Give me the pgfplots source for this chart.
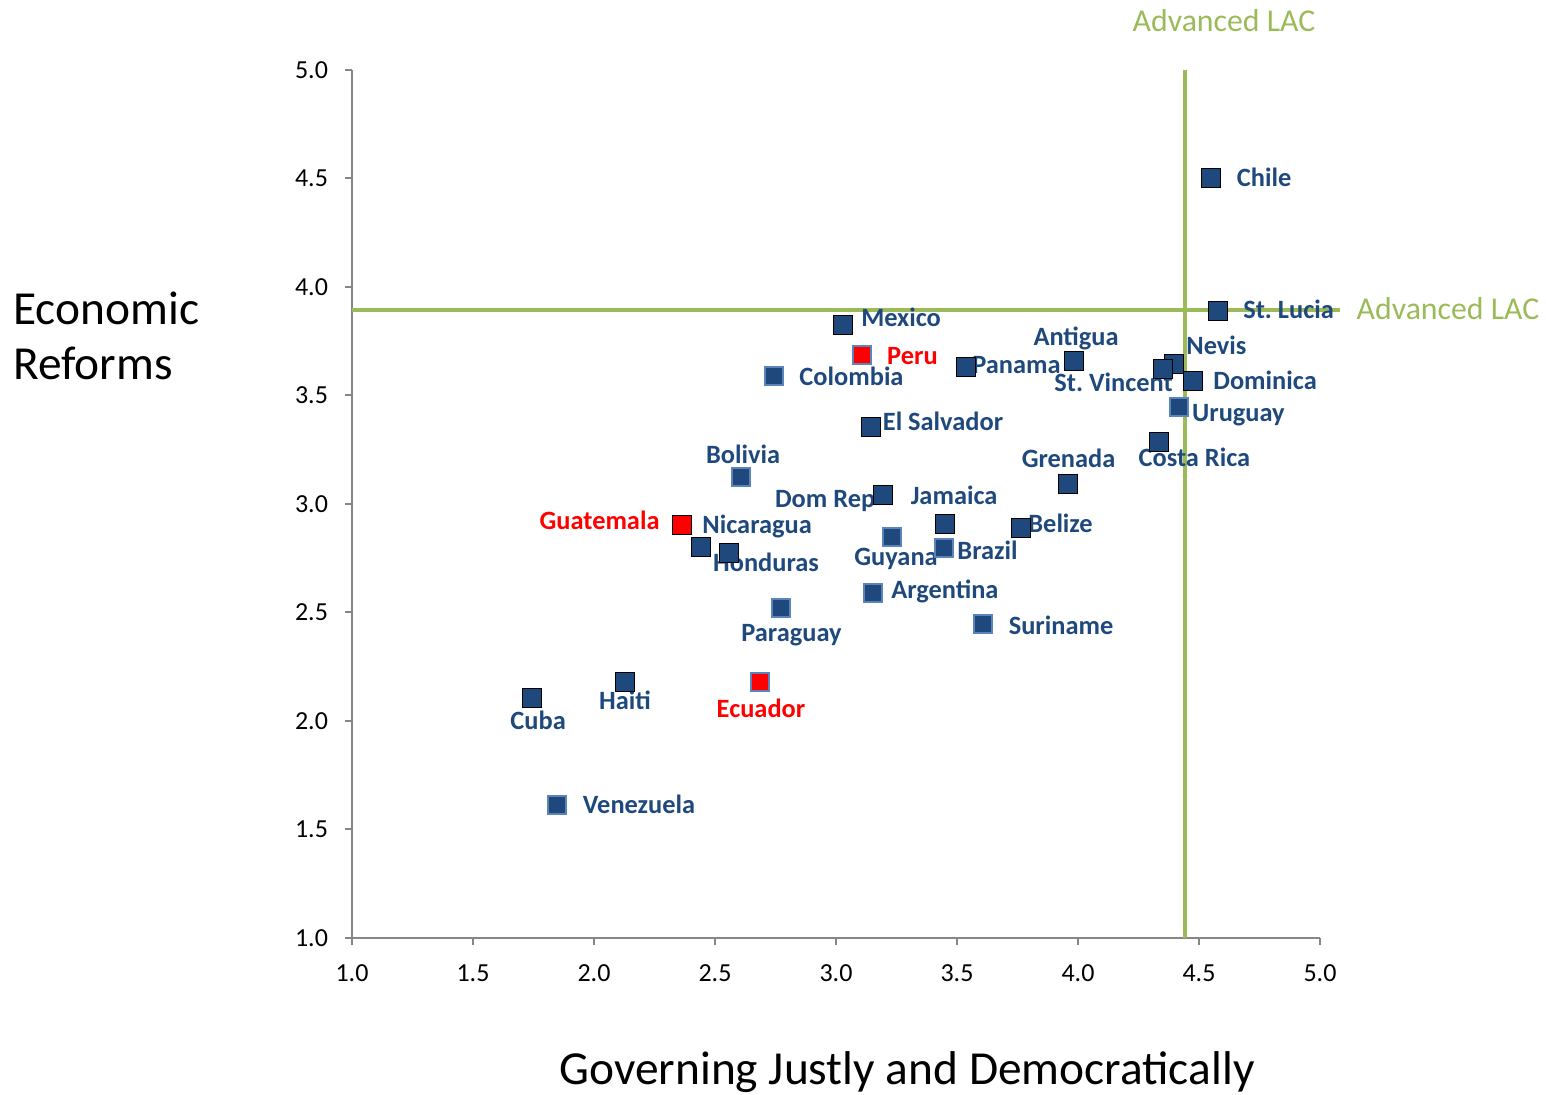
\documentclass[border=0pt]{standalone}
\usepackage{pgfplots}
\pgfplotsset{compat=1.18}
\usepackage{fontspec}
\setmainfont{Carlito}
\definecolor{navy}{HTML}{1F497D}
\definecolor{edgeblue}{HTML}{5B84BA}
\definecolor{lacgreen}{HTML}{9BBB59}
\definecolor{axisgray}{HTML}{868686}

\tikzset{
  lab/.style={anchor=base, yshift=-4.25pt, text=navy,
    font=\bfseries\fontsize{13.2}{15}\selectfont, inner sep=0pt},
  redlab/.style={lab, text=red},
}

\begin{document}
\begin{tikzpicture}
\path[use as bounding box] (0,0) rectangle (773pt,547.5pt);
\begin{axis}[
  at={(176pt,78.5pt)}, anchor=south west,
  scale only axis, width=484pt, height=434pt,
  xmin=1, xmax=5, ymin=1, ymax=5,
  xtick={1,1.5,2,2.5,3,3.5,4,4.5,5},
  ytick={1,1.5,2,2.5,3,3.5,4,4.5,5},
  axis x line*=bottom, axis y line*=left,
  axis line style={axisgray, line width=1pt, -},
  tick style={axisgray, line width=1pt},
  tick align=outside, major tick length=3.5pt,
  ticklabel style={font=\fontsize{13}{15}\selectfont, black},
  yticklabel style={xshift=-5pt},
  xticklabel style={yshift=-6.5pt},
  /pgf/number format/.cd, fixed, fixed zerofill, precision=1,
  assume math mode=true, /pgfplots/.cd,
  clip=false,
]
% reference lines (Advanced LAC)
\addplot[lacgreen, line width=2pt] coordinates {(1,3.896) (5.083,3.896)};
\addplot[lacgreen, line width=2pt] coordinates {(4.441,1) (4.441,5)};

% blue, no border
\addplot[only marks, mark=square*, mark size=4.75pt,
  mark options={fill=navy, draw=none}] coordinates {
  (4.550,4.502) (4.577,3.892) (3.030,3.827) (3.536,3.634) (3.982,3.660)
  (4.395,3.647) (4.349,3.624) (4.473,3.565) (4.333,3.288) (3.143,3.356)
  (3.957,3.092) (3.192,3.041) (3.448,2.908) (3.762,2.889) (2.440,2.804)
  (2.559,2.773) (1.745,2.108) (2.126,2.182)
};
% blue, light border
\addplot[only marks, mark=square*, mark size=4.5pt,
  mark options={fill=navy, draw=edgeblue, line width=1pt}] coordinates {
  (2.745,3.591) (2.606,3.123) (2.774,2.522) (3.154,2.588) (3.609,2.445)
  (3.233,2.848) (3.448,2.797) (4.419,3.448) (1.846,1.614)
};
% red
\addplot[only marks, mark=square*, mark size=4.75pt,
  mark options={fill=red, draw=none}] coordinates {(2.362,2.902)};
\addplot[only marks, mark=square*, mark size=4.5pt,
  mark options={fill=red, draw=edgeblue, line width=1pt}] coordinates {
  (3.106,3.687) (2.685,2.181)
};

\node[lab] at (axis cs:4.769,4.502) {Chile};
\node[lab] at (axis cs:4.870,3.894) {St.\ Lucia};
\node[lab] at (axis cs:3.269,3.857) {Mexico};
\node[redlab] at (axis cs:3.316,3.682) {Peru};
\node[lab] at (axis cs:3.064,3.585) {Colombia};
\node[lab] at (axis cs:3.746,3.641) {Panama};
\node[lab] at (axis cs:3.992,3.770) {Antigua};
\node[lab] at (axis cs:4.572,3.728) {Nevis};
\node[lab] at (axis cs:4.147,3.558) {St.\ Vincent};
\node[lab] at (axis cs:4.773,3.567) {Dominica};
\node[lab] at (axis cs:4.663,3.419) {Uruguay};
\node[lab] at (axis cs:4.481,3.212) {Costa Rica};
\node[lab] at (axis cs:3.442,3.378) {El Salvador};
\node[lab] at (axis cs:2.616,3.226) {Bolivia};
\node[lab] at (axis cs:3.961,3.207) {Grenada};
\node[lab] at (axis cs:2.955,3.023) {Dom Rep};
\node[lab] at (axis cs:3.488,3.037) {Jamaica};
\node[redlab] at (axis cs:2.023,2.922) {Guatemala};
\node[lab] at (axis cs:2.674,2.903) {Nicaragua};
\node[lab] at (axis cs:2.711,2.728) {Honduras};
\node[lab] at (axis cs:3.248,2.756) {Guyana};
\node[lab] at (axis cs:3.626,2.783) {Brazil};
\node[lab] at (axis cs:3.928,2.908) {Belize};
\node[lab] at (axis cs:3.450,2.604) {Argentina};
\node[lab] at (axis cs:2.816,2.406) {Paraguay};
\node[lab] at (axis cs:3.930,2.438) {Suriname};
\node[lab] at (axis cs:1.769,2.000) {Cuba};
\node[lab] at (axis cs:2.128,2.092) {Haiti};
\node[redlab] at (axis cs:2.690,2.055) {Ecuador};
\node[lab] at (axis cs:2.186,1.613) {Venezuela};
\end{axis}

\node[anchor=base, text=lacgreen, font=\fontsize{15.9}{19}\selectfont, inner sep=0pt]
  at (612pt,531.5pt) {Advanced LAC};
\node[anchor=base, text=lacgreen, font=\fontsize{15.9}{19}\selectfont, inner sep=0pt]
  at (724pt,387.5pt) {Advanced LAC};
\node[anchor=base west, font=\fontsize{23.7}{28}\selectfont, inner sep=0pt]
  at (6.5pt,385pt) {Economic};
\node[anchor=base west, font=\fontsize{23.7}{28}\selectfont, inner sep=0pt]
  at (6.5pt,357.5pt) {Reforms};
\node[anchor=base, font=\fontsize{23.7}{28}\selectfont, inner sep=0pt]
  at (453.5pt,5pt) {Governing Justly and Democratically};
\end{tikzpicture}
\end{document}
